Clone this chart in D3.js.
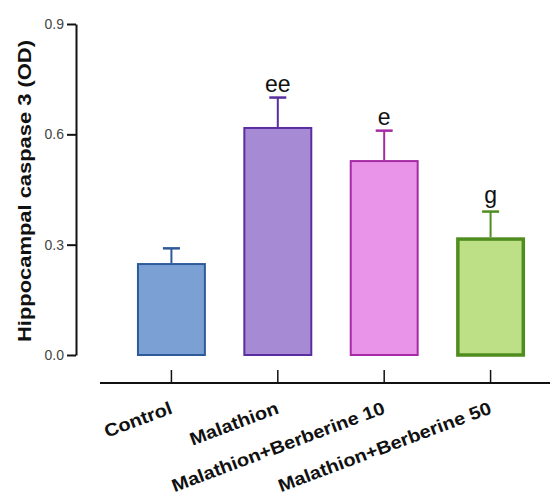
<!DOCTYPE html>
<html><head><meta charset="utf-8">
<script src="https://cdn.jsdelivr.net/npm/d3@7"></script>
<style>body{margin:0;background:#fff}svg{display:block;font-family:"Liberation Sans",Arial,sans-serif}</style>
</head><body>
<svg id="c" width="550" height="497"></svg>
<script>
const categories = ["Control","Malathion","Malathion+Berberine 10","Malathion+Berberine 50"];
const means = [0.25, 0.62, 0.53, 0.32];
const errors = [0.04, 0.08, 0.08, 0.07];
const sigLabels = ["", "ee", "e", "g"];
const yTicks = [0, 0.3, 0.6, 0.9];
const fills = ["#7ba0d4","#a68ad4","#e994e8","#bddf86"];
const strokes = ["#2e5a9a","#5a2ea0","#a62aa6","#4f8d1f"];
const strokeW = [2,2,2,3.5];

const svg = d3.select("#c");
const x = d3.scaleBand().domain(categories).range([99.5,562.5]).paddingInner(0.352).paddingOuter(0.352);
const y = d3.scaleLinear().domain([0,0.9]).range([355,24]);

// y axis
const ya = svg.append("g").attr("transform","translate(76,0)")
  .call(d3.axisLeft(y).tickValues(yTicks).tickFormat(d3.format(".1f")).tickSize(9).tickSizeOuter(0));
ya.select(".domain").attr("stroke","#111").attr("stroke-width",2);
ya.selectAll(".tick line").attr("stroke","#111").attr("stroke-width",2);
ya.selectAll(".tick text").attr("font-size",14).attr("fill","#444").attr("font-family","Liberation Sans, Arial, sans-serif").attr("x",-12);

svg.append("text").attr("transform","translate(31,191) rotate(-90)")
  .attr("text-anchor","middle").attr("font-size",19).attr("font-weight","bold").attr("fill","#111")
  .attr("textLength",302).attr("lengthAdjust","spacingAndGlyphs")
  .text("Hippocampal caspase 3 (OD)");

// x axis
svg.append("line").attr("x1",100).attr("x2",550).attr("y1",383).attr("y2",383).attr("stroke","#111").attr("stroke-width",2);
const xa = svg.append("g").attr("transform","translate(0,383)")
  .call(d3.axisBottom(x).tickSizeInner(-13).tickSizeOuter(0).tickFormat(""));
xa.select(".domain").remove();
xa.selectAll(".tick line").attr("stroke","#111").attr("stroke-width",1.5);

svg.append("g").selectAll("text").data(categories).join("text")
  .attr("transform",d=>`translate(${x(d)+x.bandwidth()/2+2},413) rotate(-20.5)`)
  .attr("text-anchor","end").attr("font-size",18).attr("font-weight","bold").attr("fill","#111")
  .text(d=>d)
  .each(function(){ const w=this.getComputedTextLength(); d3.select(this).attr("textLength",w*1.11).attr("lengthAdjust","spacingAndGlyphs"); });

// error bars
const eg = svg.append("g");
categories.forEach((c,i)=>{
  const cx = x(c)+x.bandwidth()/2;
  eg.append("line").attr("x1",cx).attr("x2",cx).attr("y1",y(means[i])).attr("y2",y(means[i]+errors[i]))
    .attr("stroke",strokes[i]).attr("stroke-width",2);
  eg.append("line").attr("x1",cx-8.5).attr("x2",cx+8.5).attr("y1",y(means[i]+errors[i])).attr("y2",y(means[i]+errors[i]))
    .attr("stroke",strokes[i]).attr("stroke-width",2.5);
});

// bars
svg.append("g").selectAll("rect").data(categories).join("rect")
  .attr("x",(d,i)=>x(d)+strokeW[i]/2).attr("width",(d,i)=>x.bandwidth()-strokeW[i])
  .attr("y",(d,i)=>y(means[i])+strokeW[i]/2).attr("height",(d,i)=>y(0)-y(means[i])-strokeW[i]/2)
  .attr("fill",(d,i)=>fills[i]).attr("stroke",(d,i)=>strokes[i]).attr("stroke-width",(d,i)=>strokeW[i]);

// significance labels
svg.append("g").selectAll("text").data(categories).join("text")
  .attr("x",d=>x(d)+x.bandwidth()/2).attr("y",(d,i)=>y(means[i]+errors[i])-(sigLabels[i]==="g"?9:6))
  .attr("text-anchor","middle").attr("font-size",23).attr("fill","#111")
  .text((d,i)=>sigLabels[i]);
</script>
</body></html>
